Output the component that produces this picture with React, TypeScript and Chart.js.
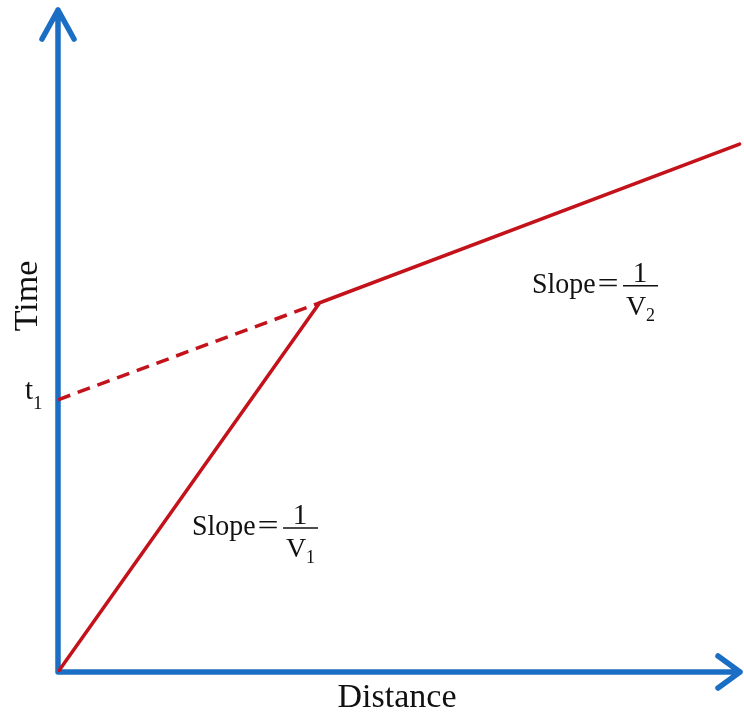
import React, { useEffect, useRef } from "react";
import { Chart, registerables } from "chart.js";

Chart.register(...registerables);

// Data (distance / time, arbitrary units)
const distance = [0, 3.82, 9.95];
const time = [0, 5.56, 7.95];
const interceptDistance = [0, 3.82];
const interceptTime = [4.1, 5.56];
const t1Value = 4.1;
const axisTitles = ["Distance", "Time"];
const slopeLabels = ["1", "V", "1", "2"];

const BLUE = "#1a6fc4";
const RED = "#c4121a";
const SERIF = '"Liberation Serif", "DejaVu Serif", serif';

function drawSlope(ctx: CanvasRenderingContext2D, x0: number, base: number, num: string, sub: string) {
  ctx.save();
  ctx.fillStyle = "#111";
  ctx.textBaseline = "alphabetic";
  ctx.font = `30px ${SERIF}`;
  ctx.save();
  ctx.translate(x0, base);
  ctx.scale(0.93, 1);
  ctx.textAlign = "left";
  ctx.fillText("Slope", 0, 0);
  ctx.restore();
  ctx.save();
  ctx.translate(x0 + 76, base);
  ctx.scale(1.25, 1);
  ctx.textAlign = "center";
  ctx.fillText("=", 0, 0);
  ctx.restore();
  // fraction bar
  ctx.strokeStyle = "#111";
  ctx.lineWidth = 1.5;
  ctx.beginPath();
  ctx.moveTo(x0 + 91, base - 7);
  ctx.lineTo(x0 + 126, base - 7);
  ctx.stroke();
  ctx.textAlign = "center";
  ctx.font = `29px ${SERIF}`;
  ctx.fillText(num, x0 + 108, base - 11);
  ctx.font = `28px ${SERIF}`;
  ctx.fillText("V", x0 + 104, base + 22);
  ctx.font = `18px ${SERIF}`;
  ctx.textAlign = "left";
  ctx.fillText(sub, x0 + 114, base + 28);
  ctx.restore();
}

const overlay = {
  id: "overlay",
  beforeDatasetsDraw(chart: any) {
    const { ctx, scales } = chart;
    const xs = scales.x;
    const ys = scales.y;
    const ox = xs.getPixelForValue(0);
    const oy = ys.getPixelForValue(0);
    const top = ys.getPixelForValue(ys.max) + 2;
    const right = xs.getPixelForValue(xs.max) - 3;
    ctx.save();
    ctx.strokeStyle = BLUE;
    ctx.lineWidth = 5.5;
    ctx.lineCap = "round";
    ctx.lineJoin = "round";
    ctx.beginPath();
    ctx.moveTo(ox, oy);
    ctx.lineTo(ox, top);
    ctx.moveTo(ox - 16, top + 29);
    ctx.lineTo(ox, top);
    ctx.lineTo(ox + 16, top + 29);
    ctx.moveTo(ox, oy);
    ctx.lineTo(right, oy);
    ctx.moveTo(right - 22, oy - 16);
    ctx.lineTo(right, oy);
    ctx.lineTo(right - 22, oy + 16);
    ctx.stroke();
    ctx.restore();
  },
  afterDatasetsDraw(chart: any) {
    const { ctx, scales } = chart;
    const xs = scales.x;
    const ys = scales.y;
    const ox = xs.getPixelForValue(0);
    const oy = ys.getPixelForValue(0);
    ctx.save();
    ctx.fillStyle = "#111";
    ctx.textBaseline = "alphabetic";
    // x title
    ctx.font = `34px ${SERIF}`;
    ctx.textAlign = "center";
    ctx.fillText(axisTitles[0], 397, oy + 35);
    // y title
    ctx.save();
    ctx.translate(ox - 21, 296);
    ctx.rotate(-Math.PI / 2);
    ctx.font = `34px ${SERIF}`;
    ctx.textAlign = "center";
    ctx.fillText(axisTitles[1], 0, 0);
    ctx.restore();
    // t1 tick label
    const ty = ys.getPixelForValue(t1Value);
    ctx.font = `29px ${SERIF}`;
    ctx.textAlign = "right";
    ctx.fillText("t", ox - 25, ty - 1);
    ctx.font = `19px ${SERIF}`;
    ctx.textAlign = "left";
    ctx.fillText("1", ox - 25, ty + 9);
    ctx.restore();
    // slope annotations
    drawSlope(ctx, xs.getPixelForValue(1.956), ys.getPixelForValue(2.063), slopeLabels[0], slopeLabels[2]);
    drawSlope(ctx, xs.getPixelForValue(6.92), ys.getPixelForValue(5.71), slopeLabels[0], slopeLabels[3]);
  },
};

export default function App() {
  const ref = useRef<HTMLCanvasElement | null>(null);
  useEffect(() => {
    if (!ref.current) return;
    const chart = new Chart(ref.current, {
      type: "scatter",
      data: {
        datasets: [
          {
            data: distance.map((d, i) => ({ x: d, y: time[i] })),
            showLine: true,
            borderColor: RED,
            borderWidth: 3.5,
            pointRadius: 0,
            borderCapStyle: "round",
          },
          {
            data: interceptDistance.map((d, i) => ({ x: d, y: interceptTime[i] })),
            showLine: true,
            borderColor: RED,
            borderWidth: 3.5,
            borderDash: [13, 8],
            pointRadius: 0,
          },
        ],
      },
      options: {
        responsive: false,
        animation: false,
        layout: { padding: { left: 58, right: 1, top: 8, bottom: 45 } },
        scales: {
          x: { type: "linear", min: 0, max: 10, display: false },
          y: { type: "linear", min: 0, max: 10, display: false },
        },
        plugins: { legend: { display: false }, tooltip: { enabled: false } },
      },
      plugins: [overlay],
    } as any);
    return () => chart.destroy();
  }, []);
  return (
    <div style={{ position: "fixed", left: 0, top: 0, width: 744, height: 717, background: "#fff" }}>
      <canvas ref={ref} width={744} height={717} style={{ width: 744, height: 717, display: "block" }} />
    </div>
  );
}
